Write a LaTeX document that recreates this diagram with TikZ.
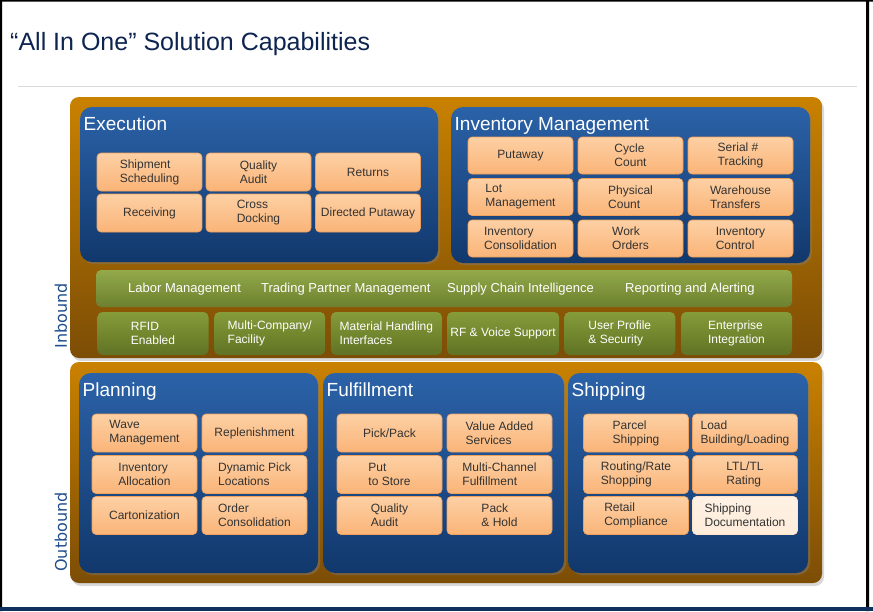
\documentclass[tikz,border=0pt]{standalone}
\usepackage{fontspec}
\setmainfont{Liberation Sans}
\newfontfamily\sidefont{DejaVu Sans}
\usetikzlibrary{shadows}
\definecolor{navy}{RGB}{14,36,80}
\definecolor{sideblue}{RGB}{30,78,140}
\definecolor{orTop}{RGB}{201,129,0}
\definecolor{orBot}{RGB}{124,77,6}
\definecolor{blTop}{RGB}{43,98,168}
\definecolor{blBot}{RGB}{17,56,108}
\definecolor{capTop}{RGB}{253,208,164}
\definecolor{capBot}{RGB}{250,180,120}
\definecolor{capLine}{RGB}{238,160,92}
\definecolor{grTop}{RGB}{147,169,74}
\definecolor{grBot}{RGB}{108,128,46}
\definecolor{gbTop}{RGB}{134,156,58}
\definecolor{gbBot}{RGB}{96,114,36}
\definecolor{txt}{RGB}{51,51,51}
\begin{document}
\begin{tikzpicture}[x=1pt,y=-1pt,
    frame/.style={rounded corners=9pt,top color=orTop,bottom color=orBot,
      drop shadow={shadow xshift=2pt,shadow yshift=-3pt,opacity=.3}},
    pane/.style={rounded corners=12pt,top color=blTop,bottom color=blBot,
      drop shadow={shadow xshift=2pt,shadow yshift=-2pt,opacity=.4}},
    pane title/.style={anchor=base west,text=white,inner sep=0pt,
      font=\fontsize{19}{22}\selectfont},
    capbox/.style={rounded corners=4pt,top color=capTop,bottom color=capBot,draw=capLine,
      line width=.6pt,text=txt,align=left,minimum width=105pt,minimum height=38pt,
      font=\fontsize{12}{14}\selectfont},
    gbox/.style={rounded corners=5pt,top color=gbTop,bottom color=gbBot,text=white,
      align=left,minimum width=111pt,minimum height=43pt,font=\fontsize{12}{14}\selectfont},
    bar text/.style={anchor=west,text=white,inner sep=0pt,font=\fontsize{13}{15}\selectfont},
    side/.style={rotate=90,text=sideblue,font=\sidefont\fontsize{16}{18}\selectfont}]
      \useasboundingbox(0,0)rectangle(873,611);
      \fill[white](0,0)rectangle(873,611);
      \fill[black](0,0)rectangle(873,1.5) (0,0)rectangle(2,611) (866,0)rectangle(869,611);
      \fill[blBot!85!black](0,607)rectangle(873,611);
      \node[anchor=base west,text=navy,inner sep=0pt,font=\fontsize{25}{30}\selectfont]
        (title)at(10,50){“All In One” Solution Capabilities};
      \draw[black!15,line width=.8pt](18,86)--(857,86);
      \path[frame](70,97)rectangle(822,358);
      \path[frame](70,362)rectangle(822,583);
      \foreach \n/\a/\b/\c/\d/\t in{ex/80/107/438/262/Execution,
        im/451/107/810/263/Inventory Management,pl/79/373/318/573/Planning,
        fu/323/373/564/573/Fulfillment,sh/568/373/808/573/Shipping}{
        \path[pane](\a,\b)rectangle(\c,\d);
        \node[pane title](\n-title)at(\a+3.5,\b+23){\t};
      }
      \foreach \n/\x/\y/\t in{ex1/149.5/172/{Shipment\\Scheduling},ex2/258.5/172/{Quality\\Audit},
        ex3/368/172/Returns,ex4/149.5/213/Receiving,ex5/258.5/213/{Cross\\Docking},
        ex6/368/213/{Directed Putaway}}
        \node[capbox](\n)at(\x,\y){\t};
      \foreach \n/\x/\y/\t in{im1/520.5/155.5/Putaway,im2/630.5/155.5/{Cycle\\Count},
        im3/740.5/155.5/{Serial \#\\Tracking},im4/520.5/197/{Lot\\Management},
        im5/630.5/197/{Physical\\Count},im6/740.5/197/{Warehouse\\Transfers},
        im7/520.5/238.5/{Inventory\\Consolidation},im8/630.5/238.5/{Work\\Orders},
        im9/740.5/238.5/{Inventory\\Control}}
        \node[capbox,minimum height=37pt](\n)at(\x,\y){\t};
      \path[rounded corners=5pt,top color=grTop,bottom color=grBot](96,270)rectangle(792,307);
      \foreach \n/\x/\t in{lab/128/Labor Management,tpm/261/Trading Partner Management,
        sci/447/Supply Chain Intelligence,rep/625/Reporting and Alerting}
        \node[bar text](\n)at(\x,289){\t};
      \foreach \n/\t [count=\i] in{gr1/{RFID\\Enabled},gr2/{Multi-Company/\\Facility},
        gr3/{Material Handling\\Interfaces},gr4/{RF \& Voice Support},
        gr5/{User Profile\\\& Security},gr6/{Enterprise\\Integration}}
        \node[gbox](\n)at(153+116.7*\i-116.7,333.5){\t};
      \foreach \n/\x/\y/\t in{pl1/144.5/433/{Wave\\Management},pl2/254.5/433/Replenishment,
        pl3/144.5/474.5/{Inventory\\Allocation},pl4/254.5/474.5/{Dynamic Pick\\Locations},
        pl5/144.5/515.5/Cartonization,pl6/254.5/515.5/{Order\\Consolidation},
        fu1/389.5/433/{Pick/Pack},fu2/499.5/433/{Value Added\\Services},
        fu3/389.5/474.5/{Put\\to Store},fu4/499.5/474.5/{Multi-Channel\\Fulfillment},
        fu5/389.5/515.5/{Quality\\Audit},fu6/499.5/515.5/{Pack\\\& Hold},
        sh1/636/433/{Parcel\\Shipping},sh2/745/433/{Load\\Building/Loading},
        sh3/636/474.5/{Routing/Rate\\Shopping},sh4/745/474.5/{LTL/TL\\Rating},
        sh5/636/515.5/{Retail\\Compliance}}
        \node[capbox](\n)at(\x,\y){\t};
      \node[capbox,top color=white!70!capTop,bottom color=white!60!capTop,draw=white!40!capTop]
        (sh6)at(745,515.5){Shipping\\Documentation};
      \node[side](inb)at(61,316){Inbound};
      \node[side](outb)at(61,532){Outbound};
    \end{tikzpicture}
\end{document}
